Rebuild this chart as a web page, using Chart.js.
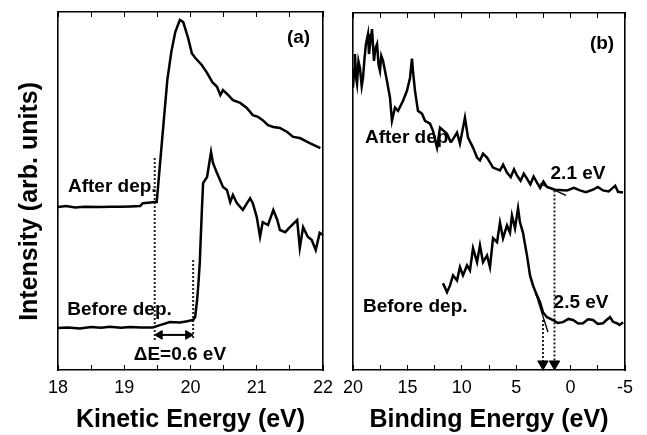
<!DOCTYPE html>
<html>
<head>
<meta charset="utf-8">
<script src="https://cdn.jsdelivr.net/npm/chart.js@4.4.1/dist/chart.umd.min.js"></script>
<style>
  html, body { margin: 0; padding: 0; background: #fff; }
  #wrap { position: relative; width: 647px; height: 435px; overflow: hidden; }
  canvas { position: absolute; top: 0; }
  #chartA { left: 0; }
  #chartB { left: 335px; }
</style>
</head>
<body>
<div id="wrap">
  <canvas id="chartA" width="335" height="435"></canvas>
  <canvas id="chartB" width="312" height="435"></canvas>
</div>
<script>
// (a) kinetic energy (eV) vs intensity (arb. units 0-100)
const kinAfterE = [18.00, 18.12, 18.26, 18.40, 18.63, 18.80, 18.94, 19.10, 19.24, 19.28,
  19.40, 19.46, 19.49, 19.57, 19.65, 19.71, 19.77, 19.84, 19.89, 19.96,
  20.02, 20.07, 20.17, 20.25, 20.33, 20.40, 20.45, 20.49, 20.57, 20.64,
  20.75, 20.85, 20.94, 21.02, 21.09, 21.17, 21.25, 21.35, 21.46, 21.55,
  21.65, 21.80, 21.96];
const kinAfterI = [45.5, 45.8, 45.4, 45.6, 45.5, 45.6, 45.6, 45.7, 45.8, 46.6,
  46.8, 46.9, 46.9, 64.0, 81.0, 88.8, 94.4, 97.8, 97.2, 93.0,
  88.5, 87.2, 85.2, 83.0, 80.4, 79.1, 76.8, 78.2, 76.8, 75.4,
  74.6, 73.2, 71.2, 70.7, 69.8, 68.4, 67.9, 67.6, 66.5, 65.1,
  64.8, 63.4, 62.0];
const kinBeforeE = [18.00, 18.15, 18.33, 18.50, 18.65, 18.78, 18.95, 19.09, 19.25, 19.43,
  19.55, 19.69, 19.84, 19.95, 20.04, 20.07, 20.10, 20.12, 20.14, 20.17,
  20.19, 20.25, 20.31, 20.34, 20.40, 20.49, 20.55, 20.60, 20.64, 20.70,
  20.79, 20.90, 20.94, 21.00, 21.05, 21.09, 21.17, 21.25, 21.31, 21.35,
  21.43, 21.50, 21.61, 21.65, 21.70, 21.77, 21.83, 21.89, 21.95, 22.00];
const kinBeforeI = [11.7, 11.9, 11.6, 12.0, 11.8, 12.1, 11.8, 12.0, 11.9, 11.9,
  12.6, 13.4, 13.3, 13.6, 14.0, 14.8, 19.6, 24.3, 30.0, 43.9,
  52.2, 53.9, 60.9, 57.8, 55.0, 51.1, 50.3, 46.9, 48.9, 46.6,
  44.7, 48.0, 46.6, 42.7, 37.2, 41.3, 40.5, 44.7, 41.9, 39.1,
  38.5, 39.9, 41.9, 34.1, 39.9, 37.2, 36.3, 33.5, 38.3, 37.7];
// onset markers (a)
const kinCutE = [19.46, 20.04];
const kinCutTop = [59.2, 30.7];
const kinCutBottom = 8.4;
const kinArrowE = [19.535, 19.965];
const kinArrowI = 9.8;

// (b) binding energy (eV) vs intensity
const bindAfterE = [20.00, 19.90, 19.82, 19.72, 19.63, 19.50, 19.36, 19.20, 19.08, 18.95,
  18.81, 18.62, 18.53, 18.40, 18.25, 18.07, 17.95, 17.79, 17.65, 17.52,
  17.40, 17.24, 16.88, 16.60, 16.42, 16.14, 15.86, 15.40, 15.04, 14.76,
  14.58, 14.49, 14.30, 14.03, 13.66, 13.38, 12.92, 12.65, 12.28, 12.00,
  11.36, 11.08, 10.90, 10.44, 10.17, 9.71, 9.43, 8.97, 8.60, 8.33,
  8.05, 7.68, 7.13, 6.49, 6.20, 5.85, 5.50, 5.20, 4.93, 4.60,
  4.30, 4.01, 3.70, 3.40, 3.09, 2.80, 2.50, 2.17, 1.43, 0.33,
  -0.30, -0.86, -1.40, -2.06, -2.50, -2.98, -3.50, -3.90, -4.10, -4.36,
  -4.82];
const bindAfterI = [79.1, 84.0, 88.5, 82.0, 80.2, 86.5, 84.6, 79.5, 81.8, 87.0,
  91.3, 94.1, 88.5, 92.0, 95.5, 86.6, 90.0, 91.3, 85.5, 83.8,
  88.0, 86.6, 81.0, 76.3, 69.8, 73.5, 72.6, 75.4, 78.2, 81.8,
  87.2, 83.8, 78.2, 72.6, 71.8, 69.8, 69.0, 67.0, 62.3, 67.9,
  66.2, 64.2, 64.2, 66.5, 63.4, 70.7, 65.1, 62.3, 59.5, 58.7,
  60.6, 59.5, 56.7, 55.9, 57.5, 55.3, 54.0, 56.2, 54.5, 53.0,
  55.0, 53.6, 52.0, 54.2, 52.5, 51.0, 52.8, 51.3, 50.5, 50.3,
  51.0, 50.3, 49.8, 50.5, 51.3, 50.3, 50.0, 51.1, 51.6, 49.9,
  49.7];
const bindBeforeE = [11.73, 11.36, 11.08, 10.81, 10.44, 10.17, 9.89, 9.52, 9.25, 8.97,
  8.60, 8.33, 8.05, 7.68, 7.41, 7.13, 6.76, 6.49, 6.21, 5.85,
  5.57, 5.39, 5.11, 4.83, 4.65, 4.38, 4.01, 3.73, 3.46, 3.09,
  2.81, 2.54, 2.17, 1.62, 1.20, 0.70, 0.20, -0.22, -0.70, -1.14,
  -1.60, -2.06, -2.50, -2.98, -3.30, -3.62, -3.90, -4.26, -4.50, -4.82];
const bindBeforeI = [24.3, 21.8, 23.7, 26.5, 25.1, 28.8, 26.5, 29.3, 27.9, 34.1,
  30.2, 34.9, 30.2, 32.1, 28.8, 36.9, 35.8, 41.3, 36.9, 40.5,
  38.5, 43.3, 39.7, 45.3, 41.3, 38.5, 32.1, 26.5, 23.7, 20.9,
  19.0, 16.2, 14.8, 14.0, 13.2, 13.4, 14.3, 14.0, 13.0, 13.1,
  14.2, 14.0, 12.9, 13.1, 14.0, 14.8, 13.5, 13.1, 12.6, 13.4];
// edge fits and cutoff markers (b)
const bindAfterFitE = [2.81, 0.42];
const bindAfterFitI = [52.2, 48.9];
const bindBeforeFitE = [3.73, 2.08];
const bindBeforeFitI = [26.5, 10.6];
const bindCutE = [2.54, 1.48];
const bindCutTop = [14.0, 50.3];
const bindArrowI = 1.7;

const labelsA = [
  { text: 'After dep.', x: 18.15, y: 51.1, align: 'left' },
  { text: 'Before dep.', x: 18.14, y: 16.8, align: 'left' },
  { text: '(a)', x: 21.63, y: 92.7, align: 'center' },
  { text: '\u0394E=0.6 eV', x: 19.84, y: 4.2, align: 'center' }
];
const labelsB = [
  { text: 'After dep.', x: 18.90, y: 65.1, align: 'left' },
  { text: 'Before dep.', x: 19.08, y: 17.6, align: 'left' },
  { text: '(b)', x: -2.89, y: 91.3, align: 'center' },
  { text: '2.1 eV', x: -0.68, y: 55.0, align: 'center' },
  { text: '2.5 eV', x: -0.96, y: 18.7, align: 'center' }
];

const FONT = '"Liberation Sans", Arial, sans-serif';

function pts(xs, ys) {
  return xs.map((x, i) => ({ x: x, y: Array.isArray(ys) ? ys[i] : ys }));
}

function curve(data) {
  return { data: data, borderColor: '#000', borderWidth: 2.5, pointRadius: 0, tension: 0 };
}

function dotted(data, arrow) {
  return {
    data: data, borderColor: '#222', borderWidth: 2, borderDash: [2, 2],
    pointRadius: arrow ? [0, 6] : 0, pointStyle: 'triangle', pointRotation: 180,
    pointBackgroundColor: '#000', pointBorderColor: '#000', pointBorderWidth: 1,
    clip: false
  };
}

const textPlugin = {
  id: 'panelText',
  afterDatasetsDraw(chart, args, opts) {
    const ctx = chart.ctx;
    const xs = chart.scales.x, ys = chart.scales.y;
    ctx.save();
    ctx.fillStyle = '#000';
    ctx.font = 'bold 19px ' + FONT;
    ctx.textBaseline = 'middle';
    opts.items.forEach(t => {
      ctx.textAlign = t.align;
      ctx.fillText(t.text, xs.getPixelForValue(t.x), ys.getPixelForValue(t.y));
    });
    ctx.restore();
  }
};

function makeScales(xMin, xMax, step, labelEvery, reverse, xTitle, yTitle, leftW, rightW, topH) {
  const tickGrid = { drawOnChartArea: false, drawTicks: true, tickLength: -5, color: '#000', lineWidth: 1 };
  const border = { color: '#000', width: 1.6 };
  return {
    x: {
      type: 'linear', position: 'bottom', min: xMin, max: xMax, reverse: reverse,
      ticks: {
        stepSize: step, autoSkip: false, maxRotation: 0, color: '#000', padding: 12,
        font: { family: FONT, size: 18 },
        callback: v => (Math.abs(v % labelEvery) < 1e-9 ? v : '')
      },
      grid: tickGrid, border: border,
      title: { display: true, text: xTitle, color: '#000', padding: 0, font: { family: FONT, size: 25, weight: 'bold' } },
      // fixed axis box so the plot frame lands where the original one is
      afterFit: s => { s.height = 65; s.paddingLeft = 0; s.paddingRight = 0; }
    },
    xTop: {
      type: 'linear', position: 'top', min: xMin, max: xMax, reverse: reverse,
      ticks: { stepSize: step, display: false },
      grid: tickGrid, border: border,
      afterFit: s => { s.height = topH; s.paddingLeft = 0; s.paddingRight = 0; }
    },
    y: {
      min: 0, max: 100,
      ticks: { display: false }, grid: { display: false }, border: border,
      title: { display: !!yTitle, text: yTitle, color: '#000', padding: { top: 15, bottom: 0 }, font: { family: FONT, size: 25, weight: 'bold' } },
      afterFit: s => { s.width = leftW; }
    },
    yRight: {
      position: 'right', min: 0, max: 100,
      ticks: { display: false }, grid: { display: false }, border: border,
      afterFit: s => { s.width = rightW; }
    }
  };
}

function baseOptions(scales, labels) {
  return {
    responsive: false, animation: false, devicePixelRatio: 1,
    layout: { padding: 0 },
    plugins: { legend: { display: false }, tooltip: { enabled: false }, panelText: { items: labels } },
    scales: scales
  };
}

new Chart(document.getElementById('chartA'), {
  type: 'line',
  data: {
    datasets: [
      curve(pts(kinAfterE, kinAfterI)),
      curve(pts(kinBeforeE, kinBeforeI)),
      dotted([{ x: kinCutE[0], y: kinCutTop[0] }, { x: kinCutE[0], y: kinCutBottom }], false),
      dotted([{ x: kinCutE[1], y: kinCutTop[1] }, { x: kinCutE[1], y: kinCutBottom }], false),
      {
        data: pts(kinArrowE, kinArrowI), borderColor: '#000', borderWidth: 2,
        pointStyle: 'triangle', pointRadius: 5, pointRotation: [270, 90],
        pointBackgroundColor: '#000', pointBorderColor: '#000', pointBorderWidth: 1
      }
    ]
  },
  // trailing spaces nudge the rotated title down to sit like the original
  options: baseOptions(makeScales(18, 22, 0.5, 1, false, 'Kinetic Energy (eV)', 'Intensity (arb. units)   ', 58, 12, 12), labelsA),
  plugins: [textPlugin]
});

new Chart(document.getElementById('chartB'), {
  type: 'line',
  data: {
    datasets: [
      curve(pts(bindAfterE, bindAfterI)),
      curve(pts(bindBeforeE, bindBeforeI)),
      { data: pts(bindAfterFitE, bindAfterFitI), borderColor: '#000', borderWidth: 1.4, pointRadius: 0 },
      { data: pts(bindBeforeFitE, bindBeforeFitI), borderColor: '#000', borderWidth: 1.4, pointRadius: 0 },
      dotted([{ x: bindCutE[0], y: bindCutTop[0] }, { x: bindCutE[0], y: bindArrowI }], true),
      dotted([{ x: bindCutE[1], y: bindCutTop[1] }, { x: bindCutE[1], y: bindArrowI }], true)
    ]
  },
  options: baseOptions(makeScales(-5, 20, 2.5, 5, true, 'Binding Energy (eV)', '', 18, 22, 13), labelsB),
  plugins: [textPlugin]
});
</script>
</body>
</html>
